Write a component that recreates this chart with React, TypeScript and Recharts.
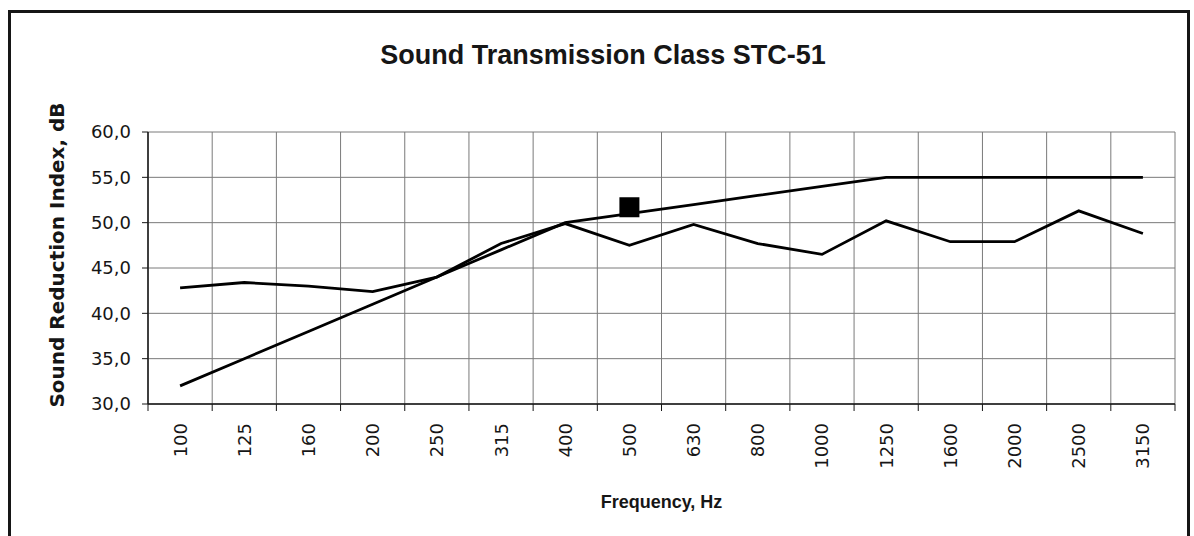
import { LineChart, Line, XAxis, YAxis, CartesianGrid } from 'recharts';

const frequencies = ['100', '125', '160', '200', '250', '315', '400', '500', '630', '800', '1000', '1250', '1600', '2000', '2500', '3150'];
const measured = [42.8, 43.4, 43.0, 42.4, 44.0, 47.7, 49.9, 47.5, 49.8, 47.7, 46.5, 50.2, 47.9, 47.9, 51.3, 48.8];
const referenceCurve = [32, 35, 38, 41, 44, 47, 50, 51, 52, 53, 54, 55, 55, 55, 55, 55];
const stcPoint = [null, null, null, null, null, null, null, 51.7, null, null, null, null, null, null, null, null];
const yTicks = [30, 35, 40, 45, 50, 55, 60];

const data = frequencies.map((freq, i) => ({
  idx: i,
  freq,
  measured: measured[i],
  reference: referenceCurve[i],
  stc: stcPoint[i],
}));

// label ticks at the categories, tick marks between them (Excel style)
const xTicks: number[] = [];
for (let i = -0.5; i <= frequencies.length - 0.5; i += 0.5) xTicks.push(i);

const INK = '#161616';
const GRID = '#7a7a7a';

const FreqTick = ({ x, y, payload }: any) => {
  const v = payload.value;
  if (!Number.isInteger(v)) {
    return <line x1={x} y1={y} x2={x} y2={y + 7} stroke={INK} strokeWidth={1} />;
  }
  const ty = y + 19;
  return (
    <text
      x={x}
      y={ty}
      transform={`rotate(-90, ${x}, ${ty})`}
      textAnchor="end"
      dy="0.36em"
      fontFamily="'DejaVu Sans', sans-serif"
      fontSize={18}
      fill={INK}
    >
      {frequencies[v]}
    </text>
  );
};

const StcSquare = ({ cx, cy }: any) => {
  if (cy == null || cx == null) return <g />;
  return <rect x={cx - 10} y={cy - 10} width={20} height={20} fill="#000" />;
};

export default function App() {
  return (
    <div style={{ position: 'absolute', top: 10, left: 8, width: 1182, height: 526, overflow: 'hidden' }}>
      <div
        style={{
          position: 'relative',
          width: 1182,
          height: 540,
          border: `3px solid ${INK}`,
          boxSizing: 'border-box',
          background: '#fff',
        }}
      >
        <div
          style={{
            position: 'absolute',
            top: 29,
            left: 8,
            right: 0,
            textAlign: 'center',
            fontFamily: "'Liberation Sans', Arial, sans-serif",
            fontWeight: 'bold',
            fontSize: 27,
            lineHeight: '27px',
            color: INK,
          }}
        >
          Sound Transmission Class STC-51
        </div>
        <LineChart width={1176} height={534} data={data} margin={{ top: 119, right: 12, bottom: 33, left: 0 }}>
          <CartesianGrid
            stroke={GRID}
            strokeWidth={1}
            verticalCoordinatesGenerator={({ offset }: any) =>
              Array.from({ length: frequencies.length + 1 }, (_, i) => offset.left + (offset.width * i) / frequencies.length)
            }
          />
          <XAxis
            dataKey="idx"
            type="number"
            domain={[-0.5, frequencies.length - 0.5]}
            ticks={xTicks}
            interval={0}
            tickSize={0}
            tickMargin={0}
            tickLine={false}
            tick={<FreqTick />}
            axisLine={{ stroke: INK, strokeWidth: 1.5 }}
            height={110}
            label={({ viewBox }: any) => (
              <text
                x={viewBox.x + viewBox.width / 2}
                y={viewBox.y + 104}
                textAnchor="middle"
                fontFamily="'Liberation Sans', Arial, sans-serif"
                fontWeight="bold"
                fontSize={18}
                fill={INK}
              >
                Frequency, Hz
              </text>
            )}
          />
          <YAxis
            domain={[30, 60]}
            ticks={yTicks}
            interval={0}
            width={137}
            tickSize={6}
            tickMargin={11}
            tickFormatter={(v: number) => v.toFixed(1).replace('.', ',')}
            tick={{ fontFamily: "'DejaVu Sans', sans-serif", fontSize: 18, fill: INK }}
            axisLine={{ stroke: INK, strokeWidth: 1.5 }}
            tickLine={{ stroke: INK }}
            label={({ viewBox }: any) => (
              <text
                x={53}
                y={viewBox.y + 123}
                transform={`rotate(-90, 53, ${viewBox.y + 123})`}
                textAnchor="middle"
                fontFamily="'DejaVu Sans', sans-serif"
                fontWeight="bold"
                fontSize={20}
                fill={INK}
              >
                Sound Reduction Index, dB
              </text>
            )}
          />
          <Line
            type="linear"
            dataKey="reference"
            stroke="#000"
            strokeWidth={2.8}
            dot={false}
            activeDot={false}
            isAnimationActive={false}
          />
          <Line
            type="linear"
            dataKey="measured"
            stroke="#000"
            strokeWidth={2.8}
            dot={false}
            activeDot={false}
            isAnimationActive={false}
          />
          <Line
            type="linear"
            dataKey="stc"
            stroke="none"
            dot={<StcSquare />}
            activeDot={false}
            isAnimationActive={false}
          />
        </LineChart>
      </div>
    </div>
  );
}
